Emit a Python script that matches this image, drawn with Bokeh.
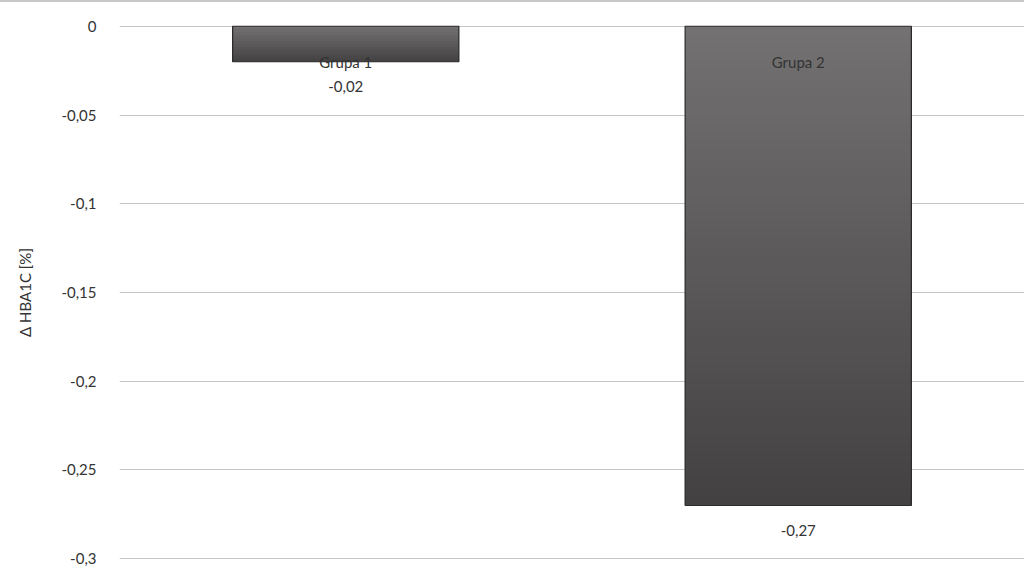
import numpy as np
from bokeh.plotting import figure
from bokeh.models import ColumnDataSource, FactorRange, Range1d, FixedTicker, CustomJSTickFormatter
from bokeh.core.properties import value
from bokeh.embed import file_html
from bokeh.resources import INLINE

# ---- data ----
categories = ["Grupa 1", "Grupa 2"]
values = [-0.02, -0.27]
value_labels = ["-0,02", "-0,27"]
y_ticks = [0, -0.05, -0.1, -0.15, -0.2, -0.25, -0.3]
y_label = "\u0394 HBA1C [%]"

FONT = "Lato"
TEXT_COLOR = "#333333"

p = figure(
    width=1024, height=572,
    x_range=FactorRange(*categories, range_padding=0),
    y_range=Range1d(-0.301, 0.001),
    output_backend="svg", toolbar_location=None,
    min_border_left=119, min_border_right=0, min_border_top=22, min_border_bottom=14,
)
p.outline_line_color = None
p.background_fill_color = "white"
p.styles = {"border-top": "2px solid #c8c8c8"}

# gridlines
p.ygrid.grid_line_color = "#c4c4c4"
p.ygrid.grid_line_width = 1
p.xgrid.grid_line_color = None
p.yaxis.ticker = FixedTicker(ticks=y_ticks)
p.yaxis.formatter = CustomJSTickFormatter(code="""
let s = tick.toFixed(2);
s = s.replace(/0+$/, '').replace(/\\.$/, '');
if (s === '-0') s = '0';
return s.replace('.', ',');
""")
p.yaxis.axis_line_color = None
p.yaxis.major_tick_line_color = None
p.yaxis.minor_tick_line_color = None
p.yaxis.major_label_standoff = 17
p.yaxis.major_label_text_font = FONT
p.yaxis.major_label_text_font_size = "15px"
p.yaxis.major_label_text_color = TEXT_COLOR
p.yaxis.axis_label = y_label
p.yaxis.axis_label_text_font = FONT
p.yaxis.axis_label_text_font_size = "15px"
p.yaxis.axis_label_text_font_style = "normal"
p.yaxis.axis_label_text_color = TEXT_COLOR
p.yaxis.axis_label_standoff = 24
p.xaxis.visible = False

# gradient bars: slices from top (lighter) to bottom (darker)
top_rgb = np.array([0x73, 0x71, 0x71])
bot_rgb = np.array([0x43, 0x41, 0x41])
xs, tops, bottoms, colors = [], [], [], []
for cat, v in zip(categories, values):
    n = max(12, int(round(abs(v) / 0.005)))
    edges = np.linspace(0, v, n + 1)
    step = edges[1] - edges[0]
    for i in range(n):
        t = (i + 0.5) / n
        c = (top_rgb + (bot_rgb - top_rgb) * t).round().astype(int)
        xs.append(cat)
        tops.append(edges[i])
        bottoms.append(edges[i + 1] + (0.8 * step if i < n - 1 else 0))
        colors.append("#%02x%02x%02x" % tuple(c))
grad = ColumnDataSource(dict(x=xs, top=tops, bottom=bottoms, color=colors))
p.vbar(x="x", top="top", bottom="bottom", width=0.5, fill_color="color",
       line_color=None, source=grad)

src = ColumnDataSource(dict(cat=categories, val=values, lab=value_labels, zero=[0, 0]))
p.vbar(x="cat", top="zero", bottom="val", width=0.5, fill_color=None,
       line_color="#2b2b2b", line_width=1.2, source=src)

# category labels inside bars
p.text(x="cat", y="zero", text="cat", source=src, y_offset=36,
       text_align="center", text_baseline="middle",
       text_font=value(FONT), text_font_size="15px", text_color=TEXT_COLOR)
# value labels under bars
p.text(x="cat", y="val", text="lab", source=src, y_offset=25,
       text_align="center", text_baseline="middle",
       text_font=value(FONT), text_font_size="15px", text_color=TEXT_COLOR)

open("out.html", "w").write(file_html(p, INLINE))
